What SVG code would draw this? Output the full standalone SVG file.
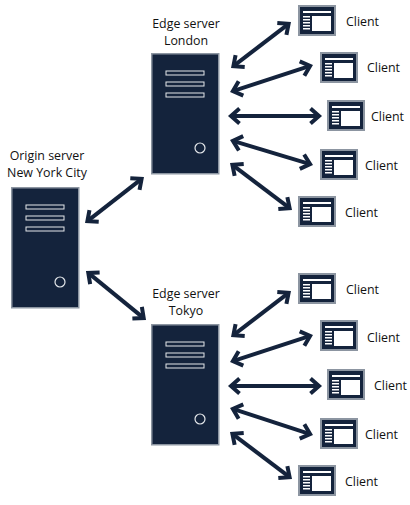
<svg xmlns="http://www.w3.org/2000/svg" width="410" height="505" viewBox="0 0 410 505">
<style>
text{font-family:"Open Sans","Noto Sans",sans-serif;font-size:12.400px;fill:#111}
.lab{text-anchor:middle}
.case{fill:#14233c;stroke:#8c95a1;stroke-width:1.5}
.bar{fill:#14233c;stroke:#e4e7ea;stroke-width:1}
.led{fill:none;stroke:#e4e7ea;stroke-width:1.2}
.ico{fill:#14233c;stroke:#8c95a1;stroke-width:2}
.w{fill:#fff}
.con line{stroke:#14233c;stroke-width:4;marker-start:url(#h);marker-end:url(#h)}
</style>
<defs>
<marker id="h" viewBox="-13 -10 18 20" refX="0" refY="0" markerWidth="18" markerHeight="20" markerUnits="userSpaceOnUse" orient="auto-start-reverse">
<path d="M-8.500 -7.500L0 0L-8.500 7.500" fill="none" stroke="#14233c" stroke-width="4"/>
</marker>
<g id="server">
<rect class="case" x="0.750" y="0.750" width="67" height="120"/>
<rect class="bar" x="15" y="18" width="38" height="4"/>
<rect class="bar" x="15" y="29" width="38" height="4"/>
<rect class="bar" x="15" y="40" width="38" height="4"/>
<circle class="led" cx="49" cy="95" r="5"/>
</g>
<g id="client">
<rect class="ico" x="1" y="1" width="36" height="29"/>
<rect class="w" x="5" y="6" width="28" height="2"/>
<rect class="w" x="14" y="11" width="19" height="15"/>
<rect class="w" x="5" y="11" width="7" height="1.500"/>
<rect class="w" x="5" y="14" width="7" height="1.500"/>
<rect class="w" x="5" y="17" width="7" height="1.500"/>
<rect class="w" x="5" y="20" width="7" height="1.500"/>
<rect class="w" x="5" y="23" width="7" height="1.500"/>
</g>
</defs>
<rect width="410" height="505" fill="#fff"/>
<g class="con" id="connectors">
<line x1="87.400" y1="221.200" x2="141.600" y2="178.800"/>
<line x1="88.300" y1="272.900" x2="143.700" y2="318.100"/>
<line x1="233.400" y1="66.200" x2="288.600" y2="23.800"/>
<line x1="232.900" y1="91.100" x2="310.100" y2="65.900"/>
<line x1="231" y1="116" x2="319" y2="116"/>
<line x1="232.900" y1="140.900" x2="310.100" y2="164.100"/>
<line x1="232.400" y1="164.800" x2="289.600" y2="208.200"/>
<line x1="233.400" y1="335.200" x2="288.600" y2="292.800"/>
<line x1="232.900" y1="361.100" x2="310.100" y2="335.900"/>
<line x1="231" y1="386" x2="319" y2="386"/>
<line x1="232.900" y1="408.900" x2="310.100" y2="434.100"/>
<line x1="232.400" y1="433.800" x2="289.600" y2="477.200"/>
</g>
<g id="origin"><use href="#server" x="11" y="187"/><text class="lab" x="47" y="160">Origin server</text><text class="lab" x="47" y="177">New York City</text></g>
<g id="london"><use href="#server" x="151" y="53"/><text class="lab" x="186" y="28">Edge server</text><text class="lab" x="186" y="45">London</text></g>
<g id="tokyo"><use href="#server" x="151" y="324"/><text class="lab" x="186" y="298">Edge server</text><text class="lab" x="186" y="315">Tokyo</text></g>
<g id="c1"><use href="#client" x="298" y="5"/><text x="346" y="26">Client</text></g>
<g id="c2"><use href="#client" x="320" y="52"/><text x="367" y="72">Client</text></g>
<g id="c3"><use href="#client" x="327" y="100"/><text x="371" y="121">Client</text></g>
<g id="c4"><use href="#client" x="320" y="149"/><text x="365" y="170">Client</text></g>
<g id="c5"><use href="#client" x="298" y="196"/><text x="345" y="217">Client</text></g>
<g id="c6"><use href="#client" x="298" y="273"/><text x="346" y="294">Client</text></g>
<g id="c7"><use href="#client" x="320" y="320"/><text x="367" y="342">Client</text></g>
<g id="c8"><use href="#client" x="327" y="369"/><text x="374" y="390">Client</text></g>
<g id="c9"><use href="#client" x="320" y="418"/><text x="365" y="439">Client</text></g>
<g id="c10"><use href="#client" x="298" y="465"/><text x="345" y="486">Client</text></g>
</svg>
